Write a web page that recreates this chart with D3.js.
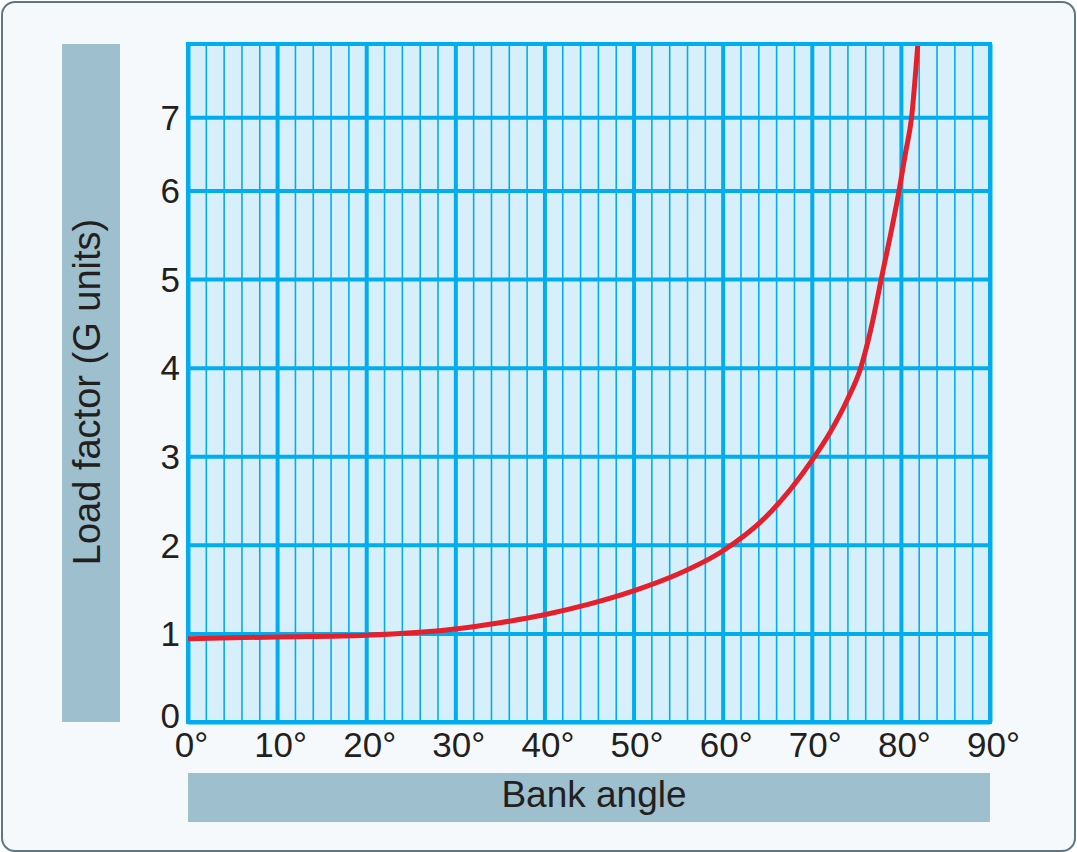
<!DOCTYPE html>
<html>
<head>
<meta charset="utf-8">
<script src="https://cdn.jsdelivr.net/npm/d3@7"></script>
<style>
  body { margin: 0; background: #ffffff; }
  text { font-family: "Liberation Sans", Arial, Helvetica, sans-serif; fill: #231f20; }
</style>
</head>
<body>
<div id="chart"></div>
<script>
// chart data
//=================================
var bankAngle = [0, 10, 20, 30, 35, 40, 45, 50, 55, 60, 65, 70, 72, 74, 75.5, 76.6, 77.8, 79.8, 80.5, 81.2, 81.9];
var loadFactor = [0.94, 0.96, 0.98, 1.05, 1.12, 1.21, 1.33, 1.48, 1.67, 1.93, 2.33, 2.95, 3.26, 3.64, 4.0, 4.42, 5.0, 6.0, 6.5, 7.0, 8.0];

var angleTicks = [0, 10, 20, 30, 40, 50, 60, 70, 80, 90];
var minorAngleTicks = d3.range(0, 91, 2);
var loadTicks = [0, 1, 2, 3, 4, 5, 6, 7];

var xTitle = "Bank angle";
var yTitle = "Load factor (G units)";

// Set up our chart
//=================================
var svgWidth = 1077;
var svgHeight = 852;

var margin = {
  top: 44,
  right: 87,
  bottom: 130,
  left: 188
};

var width = svgWidth - margin.left - margin.right;
var height = svgHeight - margin.top - margin.bottom;

var svg = d3.select("#chart")
  .append("svg")
  .attr("width", svgWidth)
  .attr("height", svgHeight);

// outer rounded frame
svg.append("rect")
  .attr("x", 2)
  .attr("y", 2)
  .attr("width", svgWidth - 4)
  .attr("height", svgHeight - 3)
  .attr("rx", 13)
  .attr("fill", "#f6f9fb")
  .attr("stroke", "#5d7883")
  .attr("stroke-width", 2);

var chartGroup = svg.append("g")
  .attr("transform", `translate(${margin.left}, ${margin.top})`);

// scales (the printed load axis is squeezed above 6)
var xScale = d3.scaleLinear()
  .domain([0, 90])
  .range([0, width]);

var yScale = d3.scaleLinear()
  .domain([0, 6, 8])
  .range([height, height * 0.216, 0]);

// plot background
chartGroup.append("rect")
  .attr("width", width)
  .attr("height", height)
  .attr("fill", "#d6effa");

// minor vertical gridlines every 2 degrees
chartGroup.append("g")
  .attr("class", "grid-minor")
  .call(d3.axisBottom(xScale).tickValues(minorAngleTicks).tickSize(height).tickFormat(""))
  .call(g => g.select(".domain").remove())
  .selectAll("line")
  .attr("stroke", "#00aeef")
  .attr("stroke-width", 1.6);

// major vertical gridlines every 10 degrees
chartGroup.append("g")
  .attr("class", "grid-major")
  .call(d3.axisBottom(xScale).tickValues(angleTicks).tickSize(height).tickFormat(""))
  .call(g => g.select(".domain").remove())
  .selectAll("line")
  .attr("stroke", "#00aeef")
  .attr("stroke-width", 4);

// horizontal gridlines
chartGroup.append("g")
  .attr("class", "grid-y")
  .call(d3.axisLeft(yScale).tickValues(loadTicks).tickSize(-width).tickFormat(""))
  .call(g => g.select(".domain").remove())
  .selectAll("line")
  .attr("stroke", "#00aeef")
  .attr("stroke-width", 4);

// frame around plot
chartGroup.append("rect")
  .attr("width", width)
  .attr("height", height)
  .attr("fill", "none")
  .attr("stroke", "#00aeef")
  .attr("stroke-width", 4);

// clip the curve to the plot
svg.append("defs").append("clipPath")
  .attr("id", "plotClip")
  .append("rect")
  .attr("y", 2)
  .attr("width", width)
  .attr("height", height);

var points = bankAngle.map((a, i) => [a, loadFactor[i]]);

var line = d3.line()
  .x(d => xScale(d[0]))
  .y(d => yScale(d[1]))
  .curve(d3.curveMonotoneX);

chartGroup.append("path")
  .datum(points)
  .attr("clip-path", "url(#plotClip)")
  .attr("d", line)
  .attr("fill", "none")
  .attr("stroke", "#e3202b")
  .attr("stroke-width", 5)
  .attr("stroke-linecap", "round");

// x axis labels
var xAxis = chartGroup.append("g")
  .attr("transform", `translate(0, ${height})`)
  .call(d3.axisBottom(xScale).tickValues(angleTicks).tickSize(0).tickPadding(10).tickFormat(d => d + "°"));
xAxis.select(".domain").remove();
xAxis.selectAll("text")
  .attr("font-size", "35px")
  .attr("dx", 3)
  .style("fill", "#231f20");

// y axis labels
var yAxis = chartGroup.append("g")
  .call(d3.axisLeft(yScale).tickValues(loadTicks).tickSize(0).tickPadding(8));
yAxis.select(".domain").remove();
yAxis.selectAll("text")
  .attr("font-size", "35px")
  .attr("dy", d => d === 0 ? "0.15em" : "0.35em")
  .style("fill", "#231f20");

// axis title boxes
svg.append("rect")
  .attr("x", 62)
  .attr("y", margin.top)
  .attr("width", 58)
  .attr("height", height)
  .attr("fill", "#9dbfce");

svg.append("text")
  .attr("transform", "translate(100, 392) rotate(-90)")
  .attr("text-anchor", "middle")
  .attr("font-size", "38px")
  .text(yTitle);

svg.append("rect")
  .attr("x", margin.left)
  .attr("y", 773)
  .attr("width", width)
  .attr("height", 49)
  .attr("fill", "#9dbfce");

svg.append("text")
  .attr("x", margin.left + width / 2 + 5)
  .attr("y", 807)
  .attr("text-anchor", "middle")
  .attr("font-size", "37px")
  .text(xTitle);
</script>
</body>
</html>
